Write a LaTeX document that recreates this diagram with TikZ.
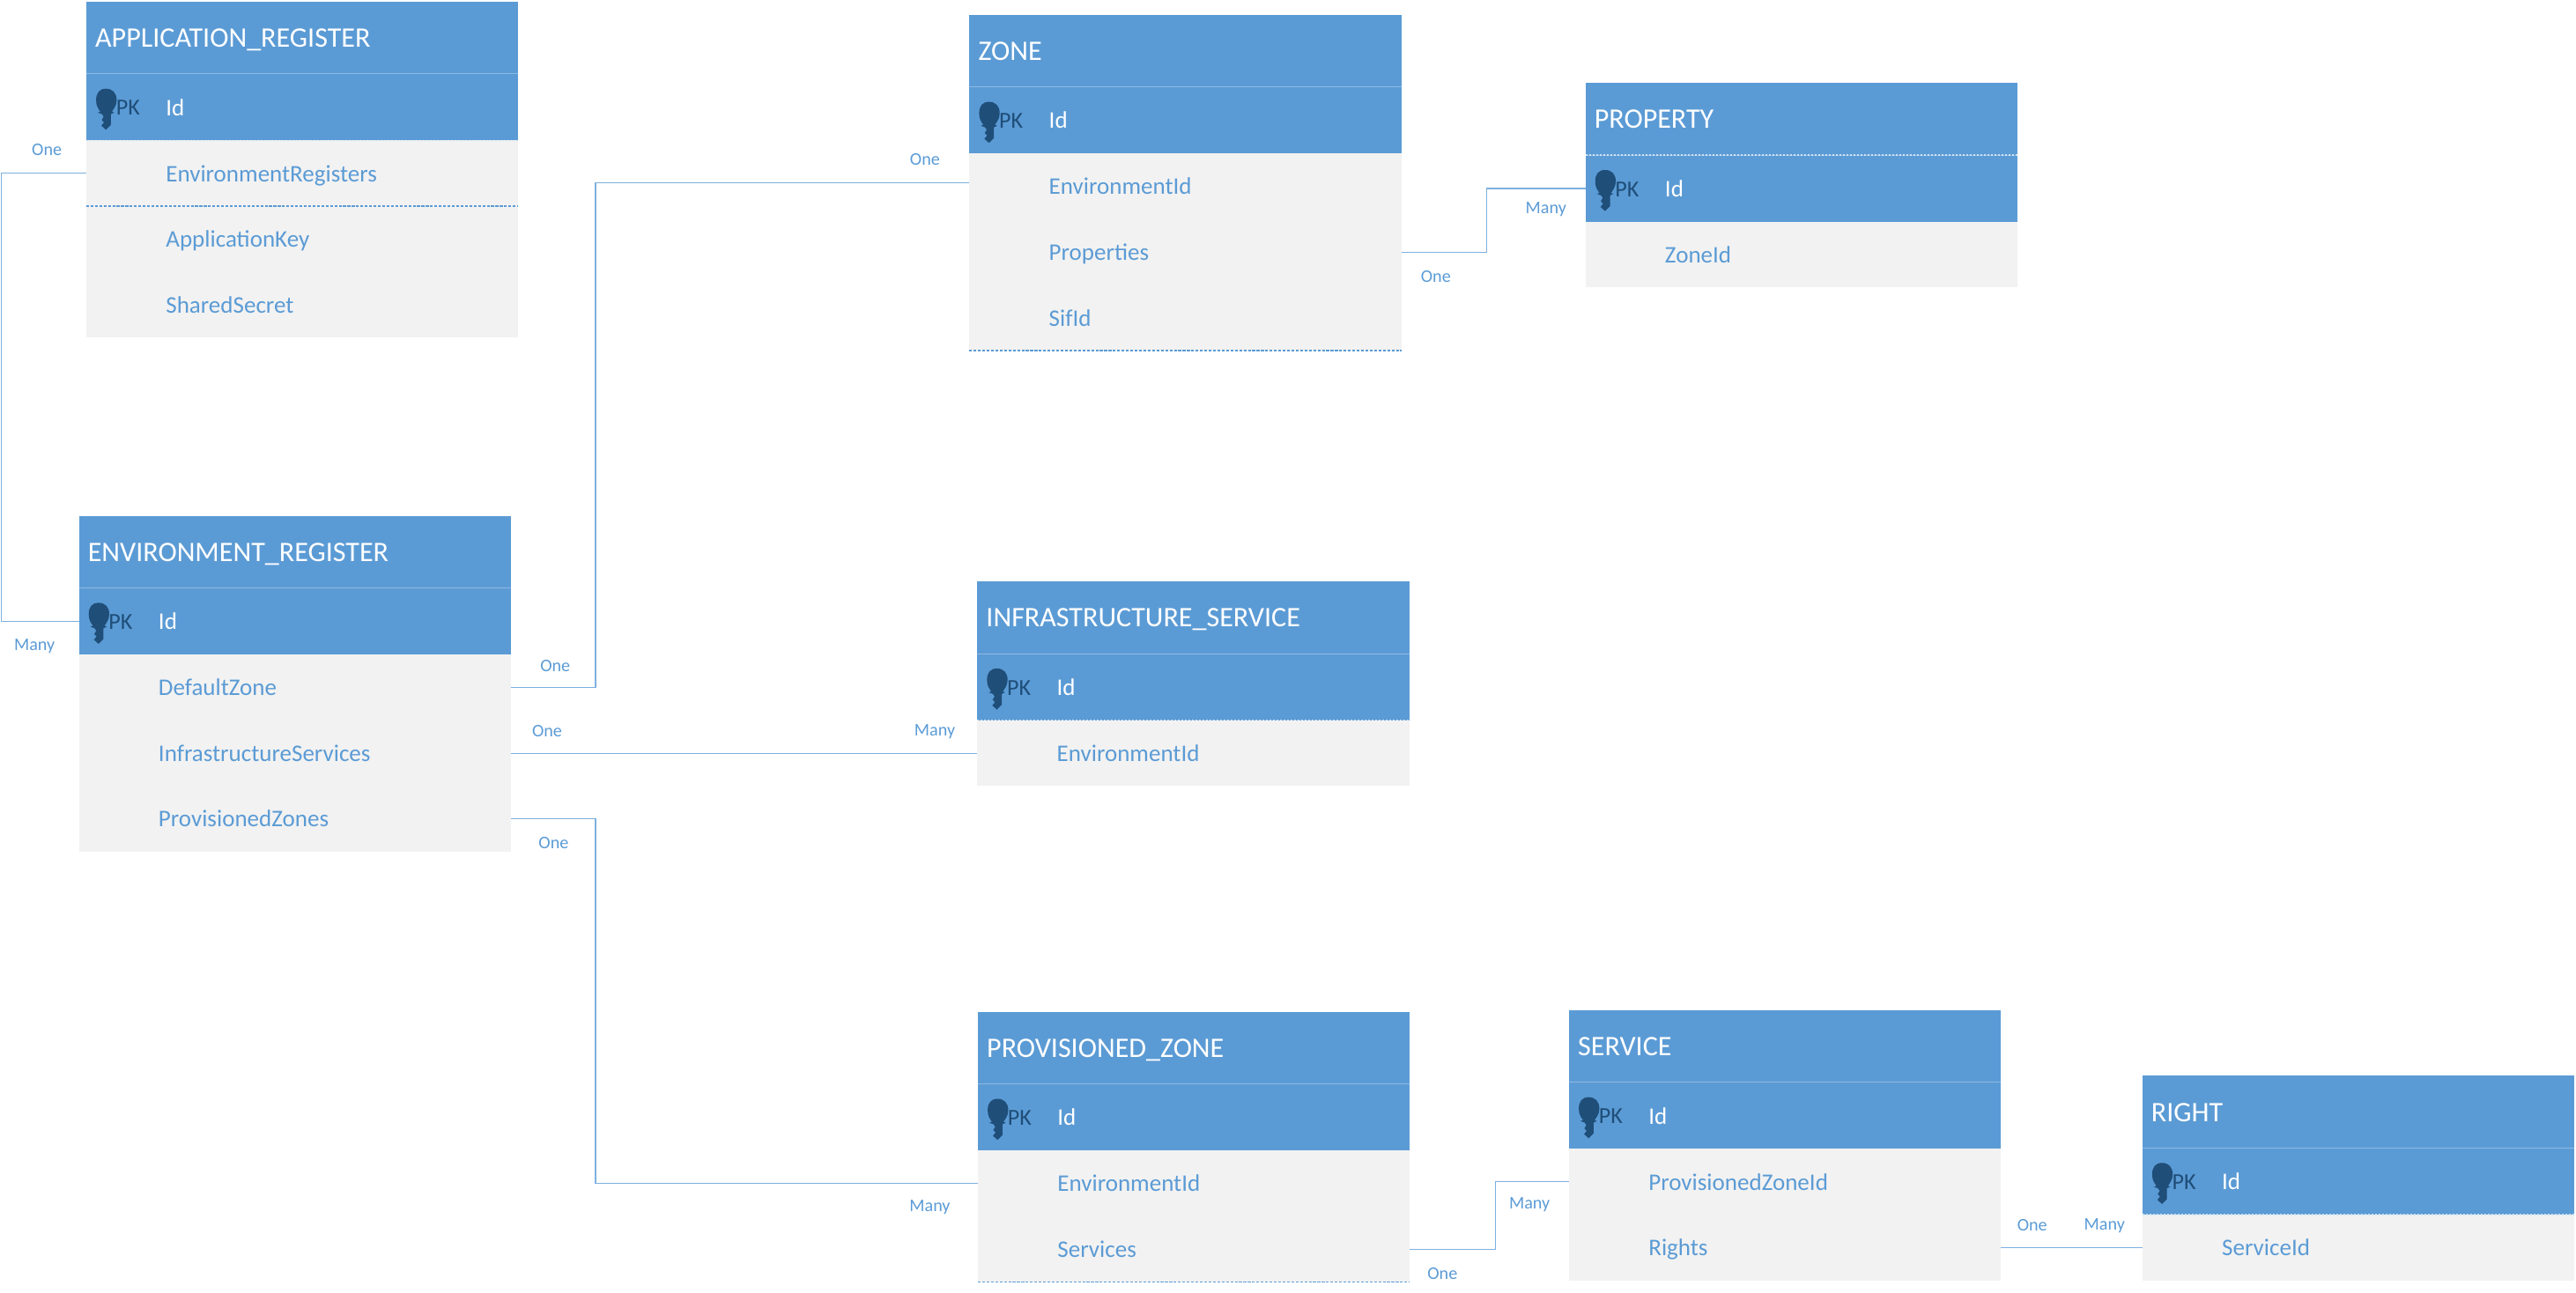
\documentclass[tikz,border=0pt]{standalone}
\usepackage{fontspec}
\setmainfont{Carlito}
\definecolor{hdr}{HTML}{5B9BD5}
\definecolor{rowbg}{HTML}{F2F2F2}
\definecolor{keyc}{HTML}{1F4E79}
\definecolor{linkc}{HTML}{7DB0E0}
\definecolor{seam}{HTML}{8DB9E3}
\tikzset{
  cellbase/.style={rectangle,inner sep=0pt,outer sep=0pt,anchor=north west,minimum width=263pt,text width=263pt,align=left},
  titlecell/.style={cellbase,fill=hdr,text=white,font=\fontsize{17.2}{17.2}\selectfont,minimum height=44pt,text height=13pt,text depth=1.5pt},
  idcell/.style={cellbase,fill=hdr,text=white,font=\fontsize{14.5}{14.5}\selectfont,minimum height=40.5pt,text height=11pt,text depth=1pt},
  rowcell/.style={cellbase,fill=rowbg,text=hdr,font=\fontsize{14.5}{14.5}\selectfont,minimum height=40pt,text height=11pt,text depth=1pt},
  pklabel/.style={inner sep=0pt,anchor=west,text=keyc,font=\fontsize{14}{14}\selectfont},
  conn/.style={draw=linkc,line width=0.55pt},
  card/.style={inner sep=0pt,yshift=-0.2pt,text=hdr,font=\fontsize{10.8}{10.8}\selectfont},
  solidsep/.style={draw=seam,line width=0.6pt},
  dashsep/.style={draw=hdr,line width=0.9pt,dash pattern=on 1.7pt off 0.95pt},
  dotsep/.style={draw=white!70!hdr,line width=0.8pt,dash pattern=on 1.0724pt off 1.0724pt},
  keyshape/.style={fill=keyc,draw=none}
}
% #1 prefix, #2 x, #3 y, #4 title, #5 rows
\newcommand{\ertable}[5]{%
  \node[titlecell] (#1title) at (#2,#3) {\hspace*{5.5pt}#4};
  \node[idcell] (#1id) at (#2,#3+44) {\hspace*{48.5pt}Id};
  \node[pklabel] (#1pk) at ([xshift=18pt,yshift=-0.5pt]#1id.west) {PK};
  \fill[keyshape,shift={(#1id.north west)},yshift=-8.5pt]
    (6,7.5) .. controls (6,3) and (8,0.5) .. (12,0.5)
    .. controls (16,0.5) and (18.5,3) .. (18.5,7.5)
    .. controls (18.5,11) and (16.5,13) .. (15.6,14.5) -- (17,15) -- (15,16)
    -- (15,22.5) -- (12,25.5) -- (9.2,23) -- (10.8,21) -- (9.4,19.5) -- (10.6,17.5) -- (9.6,16)
    -- (7,15) -- (8.6,14.5) .. controls (7.2,12.5) and (6,11) .. (6,7.5) -- cycle;
  \foreach \t [count=\i from 0] in {#5} {
    \node[rowcell] (#1r\i) at (#2,#3+84.5+40*\i) {\hspace*{48.5pt}\t};
  }
  \draw[solidsep] (#1title.south west) -- (#1title.south east);
}
\begin{document}
\begin{tikzpicture}[x=1pt,y=-1pt]
\useasboundingbox (0,0) rectangle (1568,787.2);
\ertable{app}{52.5}{1}{APPLICATION\_REGISTER}{EnvironmentRegisters,ApplicationKey,SharedSecret}
\ertable{zone}{590}{9}{ZONE}{EnvironmentId,Properties,SifId}
\ertable{prop}{965}{50.5}{PROPERTY}{ZoneId}
\ertable{env}{48}{314}{ENVIRONMENT\_REGISTER}{DefaultZone,InfrastructureServices,ProvisionedZones}
\ertable{infra}{594.8}{354}{INFRASTRUCTURE\_SERVICE}{EnvironmentId}
\ertable{prov}{595.2}{616}{PROVISIONED\_ZONE}{EnvironmentId,Services}
\ertable{serv}{955}{615}{SERVICE}{ProvisionedZoneId,Rights}
\ertable{rgt}{1304}{655}{RIGHT}{ServiceId}

% dashed row edges
\draw[dotsep] (appid.south west) -- (appid.south east);
\draw[dashsep] (appr0.south west) -- (appr0.south east);
\draw[dashsep] (zoner2.south west) -- (zoner2.south east);
\draw[dotsep] (proptitle.south west) -- (proptitle.south east);
\draw[dotsep] (infraid.south west) -- (infraid.south east);
\draw[dashsep] (provr1.south west) -- (provr1.south east);
\draw[dotsep] (rgtid.south west) -- (rgtid.south east);

% connectors
\draw[conn] (appr0.west) -- ++(-51.5,0) |- (envid.west);
\draw[conn] (envr0.east) -- ++(51.5,0) |- ([yshift=2pt]zoner0.west);
\draw[conn] (zoner1.east) -- ++(52,0) |- (propid.west);
\draw[conn] (envr1.east) -- (infrar0.west);
\draw[conn] (envr2.east) -- ++(51.5,0) |- (provr0.west);
\draw[conn] (provr1.east) -- ++(52,0) |- (servr0.west);
\draw[conn] (servr1.east) -- (rgtr0.west);

% cardinalities
\node[card] (c1) at (28.5,91) {One};
\node[card] (c2) at (21,393) {Many};
\node[card] (c3) at (338,405) {One};
\node[card] (c4) at (333,445) {One};
\node[card] (c5) at (569,445) {Many};
\node[card] (c6) at (337,513) {One};
\node[card] (c7) at (563,97) {One};
\node[card] (c8) at (941,127) {Many};
\node[card] (c9) at (874,168) {One};
\node[card] (c10) at (566,735) {Many};
\node[card] (c11) at (931,733) {Many};
\node[card] (c12) at (878,775) {One};
\node[card] (c13) at (1237,746) {One};
\node[card] (c14) at (1281,746) {Many};
\end{tikzpicture}
\end{document}
